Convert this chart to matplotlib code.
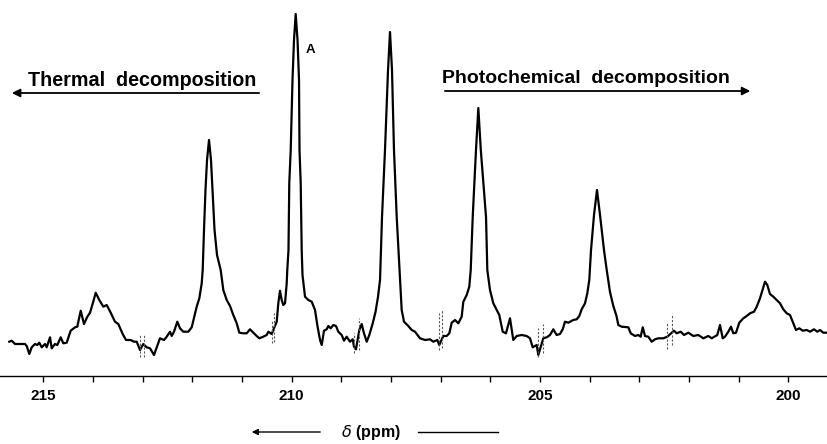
import matplotlib.pyplot as plt
from matplotlib.ticker import MultipleLocator

plt.rcParams['font.family'] = ['Liberation Sans', 'DejaVu Sans']

# spectrum trace: chemical shift (ppm) and intensity (arbitrary units)
shift_ppm = [
    215.685, 215.636, 215.570, 215.469, 215.369, 215.334, 215.282, 215.234, 215.167, 215.121,
    215.081, 215.032, 214.966, 214.932, 214.865, 214.831, 214.765, 214.718, 214.650, 214.598,
    214.529, 214.449, 214.362, 214.316, 214.247, 214.181, 214.114, 214.060, 213.994, 213.945,
    213.873, 213.792, 213.724, 213.643, 213.557, 213.490, 213.402, 213.335, 213.241, 213.174,
    213.120, 213.053, 212.987, 212.918, 212.852, 212.772, 212.717, 212.651, 212.570, 212.516,
    212.449, 212.415, 212.369, 212.302, 212.248, 212.182, 212.081, 212.012, 211.960, 211.912,
    211.859, 211.811, 211.791, 211.765, 211.735, 211.704, 211.664, 211.624, 211.594, 211.553,
    211.503, 211.429, 211.376, 211.308, 211.241, 211.175, 211.106, 211.054, 210.974, 210.905,
    210.839, 210.772, 210.704, 210.651, 210.571, 210.503, 210.470, 210.402, 210.356, 210.301,
    210.269, 210.235, 210.201, 210.168, 210.134, 210.100, 210.088, 210.064, 210.048, 210.019,
    209.983, 209.953, 209.919, 209.882, 209.852, 209.842, 209.818, 209.798, 209.782, 209.731,
    209.665, 209.596, 209.530, 209.484, 209.429, 209.395, 209.349, 209.295, 209.262, 209.214,
    209.162, 209.107, 209.061, 208.993, 208.946, 208.892, 208.825, 208.771, 208.745, 208.705,
    208.638, 208.590, 208.544, 208.489, 208.437, 208.368, 208.312, 208.262, 208.221, 208.181,
    208.121, 208.060, 208.020, 207.980, 207.940, 207.885, 207.829, 207.785, 207.738, 207.652,
    207.583, 207.517, 207.416, 207.315, 207.215, 207.148, 207.068, 207.028, 206.947, 206.879,
    206.826, 206.778, 206.711, 206.645, 206.577, 206.544, 206.476, 206.424, 206.395, 206.355,
    206.309, 206.289, 206.242, 206.192, 206.087, 206.061, 206.007, 205.940, 205.872,
    205.820, 205.751, 205.685, 205.604, 205.538, 205.469, 205.369, 205.268, 205.202, 205.147,
    205.067, 205.034, 204.934, 204.865, 204.799, 204.732, 204.664, 204.598, 204.543, 204.497,
    204.430, 204.330, 204.261, 204.209, 204.161, 204.094, 204.048, 204.008, 203.973, 203.913,
    203.853, 203.792, 203.712, 203.657, 203.591, 203.524, 203.460, 203.424, 203.355, 203.222,
    203.174, 203.088, 203.021, 202.973, 202.932, 202.886, 202.820, 202.751, 202.685, 202.618,
    202.518, 202.437, 202.349, 202.302, 202.248, 202.167, 202.101, 202.014, 201.914, 201.813,
    201.712, 201.612, 201.543, 201.431, 201.376, 201.322, 201.276, 201.209, 201.155, 201.108,
    201.054, 200.988, 200.907, 200.839, 200.772, 200.692, 200.637, 200.571, 200.517, 200.470,
    200.424, 200.370, 200.303, 200.235, 200.168, 200.102, 200.033, 199.967, 199.900, 199.846,
    199.780, 199.711, 199.631, 199.564, 199.484, 199.417, 199.363, 199.296, 199.202,
]
signal = [
    34.3, 35.3, 32.0, 32.0, 32.0, 30.0, 22.0, 28.7, 32.0, 31.0,
    33.3, 28.7, 32.0, 28.7, 38.7, 27.7, 32.0, 31.0, 38.7, 32.7,
    33.3, 45.3, 48.7, 49.3, 65.3, 52.0, 59.3, 63.3, 74.3, 83.3,
    76.0, 69.3, 71.0, 63.3, 54.3, 52.0, 42.0, 36.0, 36.0, 34.3,
    34.3, 26.0, 32.0, 28.7, 27.7, 21.0, 28.7, 37.7, 36.0, 39.3,
    44.3, 40.0, 44.3, 54.3, 47.7, 44.3, 44.3, 48.7, 59.3, 69.3,
    77.7, 92.7, 106.0, 146.0, 186.0, 216.0, 236.0, 216.0, 186.0, 146.0,
    121.0, 106.0, 86.0, 76.0, 70.0, 61.0, 52.7, 43.3, 42.7, 42.7,
    46.7, 43.3, 40.0, 37.7, 39.3, 41.0, 44.3, 42.0, 47.7, 54.3,
    72.7, 85.3, 76.0, 71.0, 72.7, 92.7, 106.0, 126.0, 193.0, 226.0,
    296.0, 336.0, 362.0, 336.0, 296.0, 226.0, 193.0, 126.0, 101.0, 79.3,
    76.0, 74.3, 66.0, 51.0, 36.0, 31.0, 45.3, 46.7, 50.0, 47.7,
    51.0, 50.0, 44.3, 41.0, 35.3, 39.3, 34.3, 36.7, 29.3, 26.7,
    46.0, 52.0, 42.7, 34.3, 41.0, 52.7, 64.0, 79.0, 96.0, 159.0,
    226.0, 306.0, 344.0, 306.0, 226.0, 159.0, 106.0, 66.0, 54.3, 50.0,
    46.0, 44.3, 37.7, 36.0, 36.7, 34.3, 36.0, 31.0, 40.0, 40.0,
    42.7, 53.3, 56.0, 52.7, 59.3, 74.3, 81.0, 89.3, 106.0, 159.0,
    206.0, 226.0, 268.0, 226.0, 159.0, 106.0, 86.0, 72.7, 66.0,
    61.0, 44.3, 42.7, 57.7, 36.0, 40.0, 41.0, 40.0, 37.7, 28.7,
    31.0, 21.0, 37.7, 38.7, 41.0, 46.7, 41.0, 42.0, 46.7, 54.3,
    53.3, 56.0, 56.7, 60.0, 66.7, 72.7, 82.7, 96.0, 126.0, 161.0,
    186.0, 161.0, 126.0, 106.0, 84.0, 70.0, 60.0, 51.0, 49.3, 48.7,
    42.7, 40.0, 41.0, 39.3, 48.7, 40.0, 39.3, 34.3, 36.7, 37.7,
    37.7, 39.3, 43.3, 45.3, 42.7, 44.3, 41.0, 43.3, 40.0, 41.0,
    37.7, 40.0, 37.7, 41.0, 51.0, 37.7, 39.3, 44.3, 49.3, 42.7,
    43.3, 53.3, 57.7, 60.0, 62.7, 64.3, 69.3, 77.7, 86.7, 94.3,
    91.0, 82.0, 79.3, 76.0, 72.7, 66.7, 62.7, 61.0, 52.7, 46.0,
    47.7, 45.3, 46.0, 44.3, 46.7, 44.3, 46.0, 43.3, 43.3,
]

# small dashed segment marks on the trace
mark_ppm = [213.053, 212.967, 210.402, 210.356, 208.745, 208.644,
            207.034, 206.967, 205.046, 204.934, 202.437, 202.336]
mark_lo = [19, 19, 33, 34, 23, 26, 26, 28, 19, 23, 27, 31]
mark_hi = [41, 41, 56, 63, 43, 58, 63, 66, 48, 52, 54, 61]

fig = plt.figure(figsize=(8.28, 4.44), dpi=100)
ax = fig.add_axes([0, 68 / 444, 1, 376 / 444])

ax.plot(shift_ppm, signal, color='black', lw=1.6, solid_joinstyle='round')
for p, lo, hi in zip(mark_ppm, mark_lo, mark_hi):
    ax.plot([p, p], [lo, hi], color='0.35', lw=0.8, ls=(0, (2, 1.5)))

ax.set_xlim(215.872, 199.202)
ax.set_ylim(0, 376)
for s in ['left', 'right', 'top']:
    ax.spines[s].set_visible(False)
ax.spines['bottom'].set_linewidth(1.0)
ax.set_yticks([])
ax.xaxis.set_major_locator(MultipleLocator(5))
ax.xaxis.set_minor_locator(MultipleLocator(1))
ax.tick_params(axis='x', which='both', direction='out', length=4, width=1)
ax.tick_params(axis='x', which='major', pad=5, labelsize=11)
for lab in ax.get_xticklabels():
    lab.set_fontweight('bold')

# annotations
ax.text(215.31, 290, 'Thermal  decomposition', fontsize=14.2, fontweight='bold',
        ha='left', va='baseline')
ax.annotate('', xy=(215.69, 283), xytext=(210.60, 283),
            arrowprops=dict(arrowstyle='-|>', lw=1.3, color='black', mutation_scale=12))
ax.text(206.97, 293, 'Photochemical  decomposition', fontsize=14, fontweight='bold',
        ha='left', va='baseline')
ax.annotate('', xy=(200.71, 285), xytext=(206.97, 285),
            arrowprops=dict(arrowstyle='-|>', lw=1.3, color='black', mutation_scale=12))
ax.text(209.63, 326, 'A', fontsize=9.5, fontweight='bold', ha='center', va='center')

# axis title with arrows
fig.text(371 / 828, 1 - 432 / 444, r'$\delta$ (ppm)', fontsize=11.5, fontweight='bold',
         ha='center', va='center')
fig.add_artist(plt.Line2D([418 / 828, 498 / 828], [1 - 432 / 444] * 2, color='black', lw=1))
ax.annotate('', xy=(249 / 828, 1 - 432 / 444), xytext=(323 / 828, 1 - 432 / 444),
            xycoords='figure fraction', textcoords='figure fraction',
            arrowprops=dict(arrowstyle='-|>', lw=1, color='black', mutation_scale=9))

fig.savefig('out.png', dpi=100)
